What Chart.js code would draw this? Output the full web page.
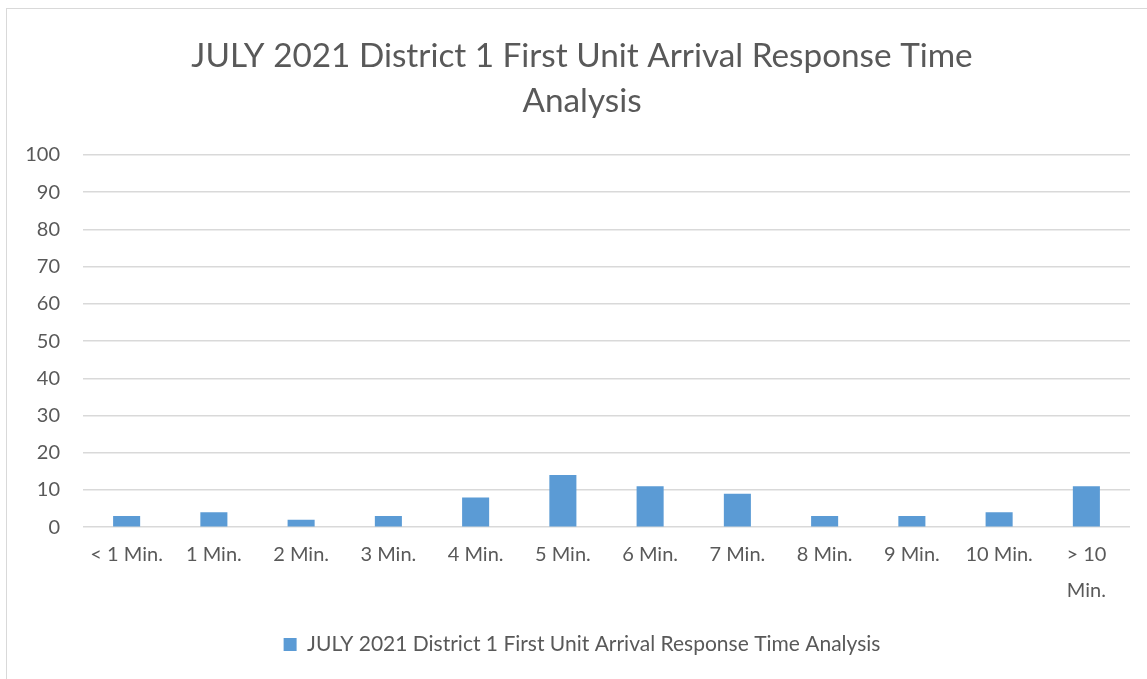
<!DOCTYPE html>
<html>
<head>
<meta charset="utf-8">
<script src="https://cdn.jsdelivr.net/npm/chart.js@4.4.0/dist/chart.umd.min.js"></script>
<style>
  html, body { margin: 0; padding: 0; background: #ffffff; }
  #frame { position: absolute; left: 6px; top: 8px; width: 1160px; height: 700px; border: 1px solid #d9d9d9; box-sizing: border-box; }
  #wrap { position: absolute; left: 0; top: 0; width: 1147px; height: 679px; }
</style>
</head>
<body>
<div id="frame"></div>
<div id="wrap"><canvas id="c" width="1147" height="679"></canvas></div>
<script>
const categories = ['< 1 Min.', '1 Min.', '2 Min.', '3 Min.', '4 Min.', '5 Min.', '6 Min.', '7 Min.', '8 Min.', '9 Min.', '10 Min.', ['> 10', 'Min.']];
const seriesName = 'JULY 2021 District 1 First Unit Arrival Response Time Analysis';
const values = [3, 4, 2, 3, 8, 14, 11, 9, 3, 3, 4, 11];
const titleLines = ['JULY 2021 District 1 First Unit Arrival Response Time', 'Analysis'];
const yTicks = { min: 0, max: 100, step: 10 };

const FONT = 'Lato, "Open Sans", sans-serif';
const TXT = '#595959';

new Chart(document.getElementById('c'), {
  type: 'bar',
  data: {
    labels: categories,
    datasets: [{
      label: seriesName,
      data: values,
      backgroundColor: '#5b9bd5',
      borderWidth: 0,
      barPercentage: 0.62,
      categoryPercentage: 0.5
    }]
  },
  options: {
    responsive: false,
    animation: false,
    layout: { padding: { left: 17, right: 0, top: 18, bottom: 14 } },
    plugins: {
      title: {
        display: true,
        text: titleLines,
        color: TXT,
        font: { family: FONT, size: 33.3, weight: 'normal', lineHeight: 1.351 },
        padding: { top: 16, bottom: 31 }
      },
      legend: {
        position: 'bottom',
        labels: {
          color: TXT,
          font: { family: FONT, size: 21 },
          boxWidth: 13,
          boxHeight: 13,
          padding: 16
        }
      },
      tooltip: { enabled: false }
    },
    scales: {
      x: {
        grid: { display: false, drawTicks: false },
        border: { display: false },
        ticks: { color: TXT, font: { family: FONT, size: 20, lineHeight: 1.82 }, maxRotation: 0, autoSkip: false, padding: 9 }
      },
      y: {
        min: yTicks.min,
        max: yTicks.max,
        afterFit: (s) => { s.width = 66; },
        ticks: { stepSize: yTicks.step, color: TXT, font: { family: FONT, size: 20 }, padding: 23 },
        grid: { color: '#d9d9d9', lineWidth: 1.5, drawTicks: false },
        border: { display: false }
      },
      yRight: {
        position: 'right',
        display: true,
        afterFit: (s) => { s.width = 17; },
        ticks: { display: false },
        grid: { display: false, drawTicks: false },
        border: { display: false }
      }
    }
  }
});
</script>
</body>
</html>
